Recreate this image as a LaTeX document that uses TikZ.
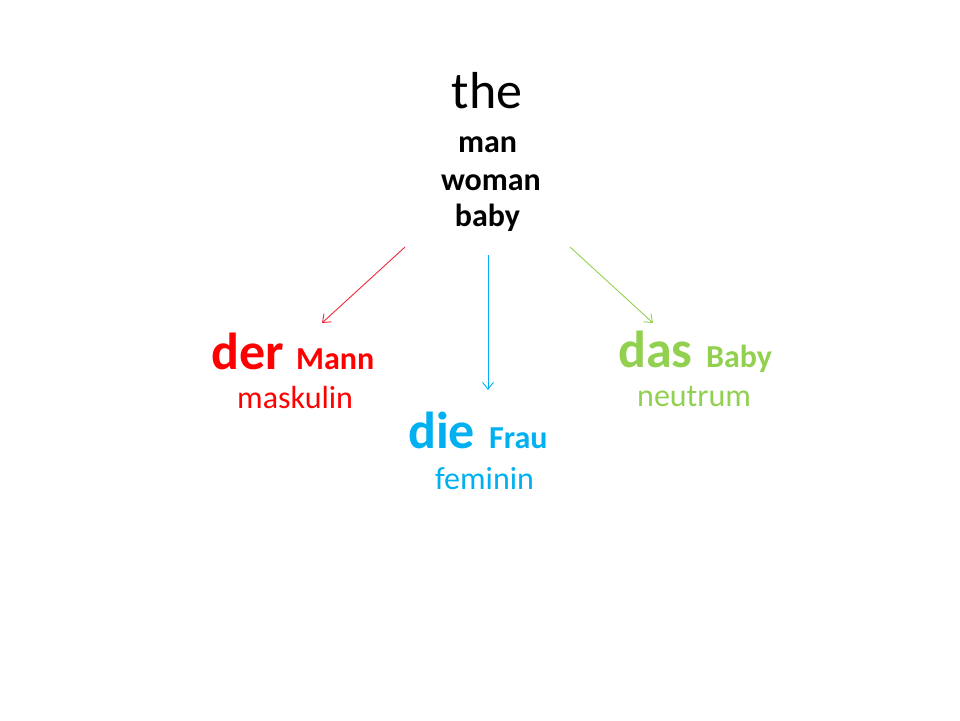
\documentclass[tikz,border=0pt]{standalone}
\usepackage{fontspec}
\setmainfont{Carlito}
\usetikzlibrary{arrows.meta}
\definecolor{dred}{HTML}{FF0000}
\definecolor{lred}{HTML}{EE2A3A}
\definecolor{dblue}{HTML}{00B0F0}
\definecolor{dgreen}{HTML}{92D050}
\tikzset{
  txt/.style={inner sep=0pt, anchor=base},
  txtw/.style={inner sep=0pt, anchor=base west},
  big/.style={font=\fontsize{52}{62}\selectfont},
  bigb/.style={font=\fontsize{52}{62}\selectfont\bfseries},
  smallb/.style={font=\fontsize{32}{38}\selectfont\bfseries},
  smallr/.style={font=\fontsize{32}{38}\selectfont},
  arr/.style={-{Straight Barb[length=7pt,width=11pt]}, line width=0.9pt},
}
\begin{document}
\begin{tikzpicture}[x=1pt,y=-1pt]
\useasboundingbox (0,0) rectangle (960,720);
% top block
\node[txt,big] (the) at (487,108) {the};
\node[txt,smallb] (man) at (487.5,152) {man};
\node[txt,smallb] (woman) at (491,190) {woman};
\node[txt,smallb] (baby) at (487.5,226) {baby};
% der
\node[txtw,bigb,text=dred] (der) at (211,369) {der};
\node[txtw,smallb,text=dred] (mann) at (296,369) {Mann};
\node[txtw,smallr,text=dred] (mask) at (237,408) {maskulin};
% die
\node[txtw,bigb,text=dblue] (die) at (408,448) {die};
\node[txtw,smallb,text=dblue] (frau) at (489,448) {Frau};
\node[txtw,smallr,text=dblue] (fem) at (435,489) {feminin};
% das
\node[txtw,bigb,text=dgreen] (das) at (618,367) {das};
\node[txtw,smallb,text=dgreen] (bbaby) at (706,367) {Baby};
\node[txtw,smallr,text=dgreen] (neut) at (637,406) {neutrum};
% arrows
\coordinate (rs) at (405,247);
\coordinate (re) at (322,323);
\coordinate (bs) at (488,255);
\coordinate (be) at (488,390);
\coordinate (gs) at (570,247);
\coordinate (ge) at (653,323);
\draw[arr,lred] (rs) -- (re);
\draw[arr,dblue] (bs) -- (be);
\draw[arr,dgreen] (gs) -- (ge);
\end{tikzpicture}
\end{document}
